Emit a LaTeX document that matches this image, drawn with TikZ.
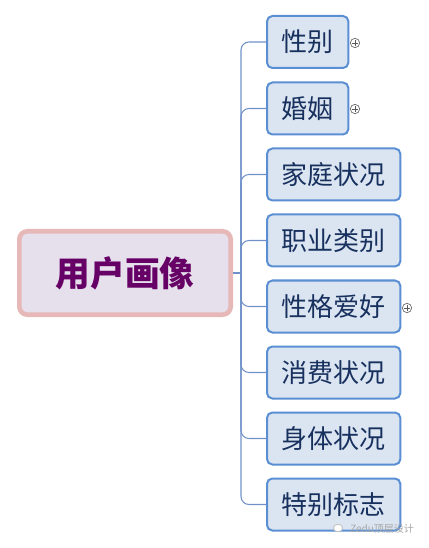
\documentclass[tikz,border=0pt]{standalone}
\usepackage{fontspec}
\usetikzlibrary{shapes.geometric}
\newfontfamily\cjk{Noto Sans CJK SC}
\definecolor{rootfill}{HTML}{E6E0EC}
\definecolor{rootdraw}{HTML}{E6B9B8}
\definecolor{roottext}{HTML}{660066}
\definecolor{kidfill}{HTML}{DBE5F1}
\definecolor{kiddraw}{HTML}{5B8FD4}
\definecolor{kidtext}{HTML}{17305E}
\definecolor{linec}{HTML}{6F90C8}
\begin{document}
\begin{tikzpicture}[x=0.75pt,y=-0.75pt,
  rootbox/.style={draw=rootdraw,fill=rootfill,line width=3.5pt,rounded corners=6pt,
    minimum width=158.5pt,minimum height=62.5pt,inner sep=0pt,
    font=\cjk\bfseries\fontsize{26}{30}\selectfont,text=roottext},
  kidbox/.style={draw=kiddraw,fill=kidfill,line width=1.5pt,rounded corners=4pt,
    minimum height=39pt,inner sep=0pt,anchor=west,
    font=\cjk\fontsize{19.5}{23}\selectfont,text=kidtext},
  shortbox/.style={kidbox,minimum width=61pt},
  longbox/.style={kidbox,minimum width=100pt},
  conn/.style={draw=linec,line width=0.8pt,rounded corners=6pt},
  plusc/.style={circle,draw=gray!80!black,line width=0.5pt,minimum size=7pt,inner sep=0pt,fill=white}
]
\useasboundingbox (0,0) rectangle (428,548);
\node[rootbox] (root) at (125,273) {用户画像};
\node[shortbox] (k1) at (266,42) {性别};
\node[shortbox] (k2) at (266,108.5) {婚姻};
\node[longbox] (k3) at (266,174.5) {家庭状况};
\node[longbox] (k4) at (266,240.5) {职业类别};
\node[longbox] (k5) at (266,306.5) {性格爱好};
\node[longbox] (k6) at (266,372.5) {消费状况};
\node[longbox] (k7) at (266,438.5) {身体状况};
\node[longbox] (k8) at (266,504.5) {特别标志};
\coordinate (trunk) at (241,273);
\draw[conn] (root.east) -- (trunk);
\foreach \k in {k1,k2,k3,k4,k5,k6,k7,k8}{
  \draw[conn] (\k.west) -| (trunk);
}
\node[plusc] (p1) at (355,43) {};
\node[plusc] (p2) at (355,109) {};
\node[plusc] (p5) at (407,308) {};
\foreach \p in {p1,p2,p5}{
  \draw[gray!70!black,line width=0.5pt] ([xshift=-2pt]\p.center) -- ([xshift=2pt]\p.center)
    ([yshift=-2pt]\p.center) -- ([yshift=2pt]\p.center);
}
\node[text=gray!70,font=\cjk\fontsize{7.5}{9}\selectfont,anchor=west,inner sep=0pt] (wm) at (350,529) {Zedu顶层设计};
\node[draw=gray!50,fill=white,ellipse,minimum width=7pt,minimum height=5.5pt,inner sep=0pt,line width=0.6pt] (wi) at (338,528) {};
\end{tikzpicture}
\end{document}
